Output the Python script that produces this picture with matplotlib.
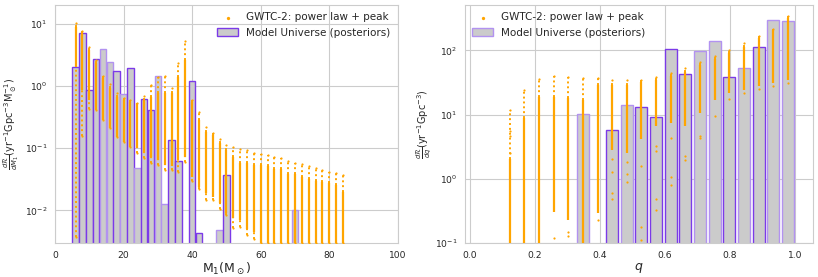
import numpy as np
import matplotlib.pyplot as plt
import seaborn as sns

sns.set_style('whitegrid')
plt.rcParams['font.family'] = ['DejaVu Sans']
plt.rcParams['mathtext.fontset'] = 'dejavusans'

# ---- left panel: primary mass ----
m1_bar_x = [6, 8, 10, 12, 14, 16, 18, 20, 22, 24, 26, 28, 30, 32, 34, 36, 40, 42, 48, 50, 70]
m1_bar_rate = [2.0, 7.0, 0.86, 2.7, 3.9, 2.45, 1.75, 0.73, 1.95, 0.048, 0.62, 0.41, 1.43,
               0.0128, 0.136, 0.063, 1.2, 0.0042, 0.0047, 0.037, 0.0101]
m1_bar_dark = [1, 1, 1, 1, 0, 0, 1, 0, 1, 0, 1, 1, 0, 0, 1, 1, 1, 1, 0, 1, 0]

m1_cols = [6, 8, 10, 12, 14, 16, 18, 20, 22, 24, 26, 28, 30, 32, 34, 36, 38, 40, 42, 44,
           46, 48, 50, 52, 54, 56, 58, 60, 62, 64, 66, 68, 70, 72, 74, 76, 78, 80, 82, 84]
m1_top = [10.4, 7.7, 4.3, 2.6, 1.45, 1.06, 0.76, 0.63, 0.6, 0.54, 0.69, 1.04, 1.38, 1.45,
          0.92, 2.37, 5.27, 0.6, 0.38, 0.222, 0.178, 0.139, 0.113, 0.106, 0.096, 0.092,
          0.085, 0.081, 0.077, 0.073, 0.069, 0.062, 0.057, 0.055, 0.052, 0.048, 0.045,
          0.042, 0.040, 0.037]
m1_hi = [9.0, 7.0, 3.8, 2.3, 1.33, 0.92, 0.67, 0.6, 0.56, 0.53, 0.6, 0.67, 0.76, 0.76,
         0.76, 1.41, 2.6, 0.55, 0.285, 0.185, 0.164, 0.12, 0.094, 0.073, 0.057, 0.057,
         0.053, 0.053, 0.051, 0.047, 0.046, 0.039, 0.038, 0.035, 0.032, 0.030, 0.029,
         0.0275, 0.026, 0.020]
m1_lo = [2.0, 0.86, 0.6, 0.41, 0.28, 0.21, 0.154, 0.128, 0.106, 0.1, 0.083, 0.073, 0.065,
         0.053, 0.051, 0.065, 0.073, 0.035, 0.024, 0.019, 0.0167, 0.013, 0.009, 0.0075,
         0.007, 0.005, 0.0045, 0.003, 0.003, 0.003, 0.003, 0.003, 0.003, 0.003, 0.003,
         0.003, 0.003, 0.003, 0.003, 0.003]
m1_min = [0.0038, 0.158, 0.43, 0.41, 0.28, 0.21, 0.154, 0.128, 0.106, 0.083, 0.069, 0.057,
          0.053, 0.045, 0.045, 0.042, 0.06, 0.03, 0.022, 0.0148, 0.015, 0.0107, 0.0085,
          0.0052, 0.0055, 0.004, 0.0035, 0.003, 0.003, 0.003, 0.003, 0.003, 0.003, 0.003,
          0.003, 0.003, 0.003, 0.003, 0.003, 0.003]

# ---- right panel: mass ratio ----
q_bar_x = [0.3475, 0.4375, 0.4825, 0.5275, 0.5725, 0.6175, 0.6625, 0.7075, 0.7525,
           0.7975, 0.8425, 0.8875, 0.9325, 0.9775]
q_bar_rate = [10.3, 5.85, 14.0, 13.3, 9.3, 105, 43, 99, 138, 38.5, 52.5, 113, 300, 286]
q_bar_dark = [0, 1, 0, 1, 1, 1, 1, 0, 0, 1, 0, 1, 0, 0]

q_cols = [0.1225, 0.1675, 0.2125, 0.2575, 0.3025, 0.3475, 0.3925, 0.4375, 0.4825, 0.5275,
          0.5725, 0.6175, 0.6625, 0.7075, 0.7525, 0.7975, 0.8425, 0.8875, 0.9325, 0.9775]
q_top = [12, 24.5, 36, 40, 38, 37, 37, 35, 35, 35, 38, 45, 53, 67, 83, 102, 130, 165, 215, 338]
q_hi = [2.0, 8.9, 19, 19, 18, 17, 29, 29, 29, 32, 35, 40, 46, 59, 73, 91, 115, 155, 210, 320]
q_lo = [0.1, 0.1, 0.1, 0.3, 0.23, 0.1, 0.29, 2.86, 2.5, 4.1, 6.6, 7.4, 6.6, 10.6, 17, 21.7,
        24.5, 27.5, 31, 35]
q_out_x = [0.1225, 0.1225, 0.1225, 0.2575, 0.3025, 0.3025, 0.3925, 0.4375, 0.4375, 0.4375,
           0.4375, 0.4825, 0.4825, 0.4825, 0.5275, 0.5275, 0.5275, 0.5725, 0.5725, 0.5725,
           0.5725, 0.6175, 0.6175, 0.6175, 0.6625, 0.6625, 0.7075, 0.7075, 0.7525, 0.7975,
           0.8425, 0.8875, 0.9325, 0.9775]
q_out_y = [5.6, 4.7, 2.5, 0.12, 0.15, 0.13, 0.23, 2.0, 1.3, 0.6, 0.48, 1.8, 1.2, 0.89, 1.57,
           0.18, 0.11, 3.2, 2.7, 0.48, 0.33, 4.3, 1.07, 0.81, 2.3, 1.95, 4.6, 4.4, 9.4, 17.5,
           22, 25, 27.5, 31]

orange = 'orange'
face = '#cbcbcb'
dark_edge = '#7b3ae8'
light_edge = '#b292f0'

fig = plt.figure(figsize=(8.18, 2.77), dpi=100)
ax1 = fig.add_axes([0.0672, 0.1227, 0.4193, 0.8592])
ax2 = fig.add_axes([0.5685, 0.1227, 0.4254, 0.8592])

# left
ax1.set_yscale('log')
ax1.scatter(m1_cols, m1_top, s=2.5, color=orange, linewidths=0, zorder=3,
            label='GWTC-2: power law + peak')
ax1.scatter(m1_cols, m1_min, s=2.5, color=orange, linewidths=0, zorder=3)
ax1.vlines(m1_cols, m1_lo, m1_hi, color=orange, lw=1.6, zorder=3)
ax1.vlines(m1_cols, m1_min, m1_lo, color=orange, lw=1.4, linestyles=(0, (1, 1.5)), zorder=3)
ax1.vlines(m1_cols, m1_hi, m1_top, color=orange, lw=1.4, linestyles=(0, (1, 1.5)), zorder=3)
ax1.bar(m1_bar_x, m1_bar_rate, width=1.9, bottom=1e-4, color=face,
        edgecolor=[dark_edge if d else light_edge for d in m1_bar_dark], linewidth=1.0,
        zorder=2, label='Model Universe (posteriors)')
ax1.set_xlim(0, 100)
ax1.set_ylim(0.003, 20)
ax1.set_xlabel(r'M$_1$(M$_\odot$)', fontsize=9, labelpad=1)
ax1.set_ylabel(r'$\frac{d\mathcal{R}}{dM_1}$(yr$^{-1}$Gpc$^{-3}$M$_\odot^{-1}$)', fontsize=7)
ax1.yaxis.set_label_coords(-0.098, 0.5)
ax1.tick_params(labelsize=6.6, pad=2)
ax1.legend(loc='upper right', frameon=False, fontsize=7.5, markerscale=1.5,
           handlelength=2, borderaxespad=0.3)

# right
ax2.set_yscale('log')
ax2.scatter(q_cols, q_top, s=2.5, color=orange, linewidths=0, zorder=3,
            label='GWTC-2: power law + peak')
ax2.scatter(q_out_x, q_out_y, s=2.5, color=orange, linewidths=0, zorder=3)
ax2.vlines(q_cols, q_lo, q_hi, color=orange, lw=1.6, zorder=3)
ax2.vlines(q_cols, q_hi, q_top, color=orange, lw=1.4, linestyles=(0, (1, 1.5)), zorder=3)
ax2.bar(q_bar_x, q_bar_rate, width=0.037, bottom=1e-3, color=face,
        edgecolor=[dark_edge if d else light_edge for d in q_bar_dark], linewidth=1.0,
        zorder=2, label='Model Universe (posteriors)')
ax2.set_xlim(-0.015, 1.055)
ax2.set_ylim(0.1, 510)
ax2.set_xlabel(r'$q$', fontsize=9, labelpad=1)
ax2.set_ylabel(r'$\frac{d\mathcal{R}}{dq}$(yr$^{-1}$Gpc$^{-3}$)', fontsize=7)
ax2.yaxis.set_label_coords(-0.092, 0.5)
ax2.tick_params(labelsize=6.6, pad=2)
ax2.legend(loc='upper left', frameon=False, fontsize=7.5, markerscale=1.5,
           handlelength=2, borderaxespad=0.3)

fig.savefig('out.png', dpi=100)
